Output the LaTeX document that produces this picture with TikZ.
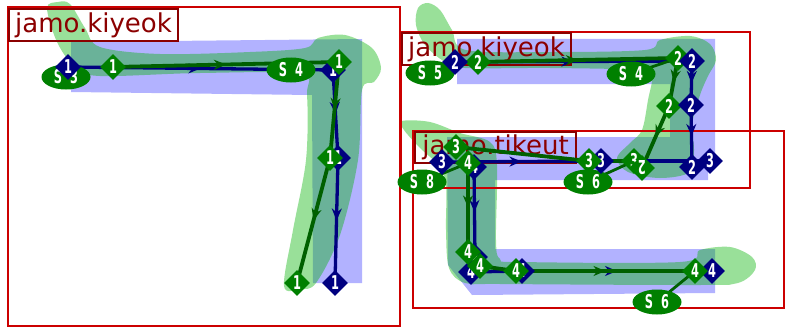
\documentclass[tikz,border=0pt]{standalone}
\usepackage{fontspec}
\usetikzlibrary{shapes.geometric,arrows.meta,decorations.markings}
\newfontfamily\dvsfont{DejaVu Sans}
\newcommand\lblfnt{\dvsfont\fontsize{26}{28}\selectfont}
\newcommand\dmdfnt{\dvsfont\bfseries\fontsize{19}{19}\selectfont}
\newcommand\nrw[1]{\scalebox{0.6}[1]{#1}}
\definecolor{framered}{RGB}{204,0,0}
\definecolor{boxred}{RGB}{139,0,0}
\definecolor{navyc}{RGB}{0,0,128}
\definecolor{dgreen}{RGB}{0,96,0}
\definecolor{mgreen}{RGB}{0,128,0}
\definecolor{lblue}{RGB}{178,178,255}
\definecolor{gfillc}{RGB}{0,178,0}
\pgfdeclarelayer{bg}\pgfdeclarelayer{lines}\pgfsetlayers{bg,lines,main}
\begin{document}
\begin{tikzpicture}[x=1pt,y=-1pt,
  framest/.style={draw=framered,line width=2.8pt},
  lbl/.style={draw=boxred,line width=1.8pt,text=boxred,font=\lblfnt,inner sep=1pt,anchor=center},
  gf/.style={fill=gfillc,fill opacity=0.4},
  nvl/.style={color=navyc,line width=3.3pt,line cap=round,line join=round},
  grl/.style={color=dgreen,line width=3.8pt,line cap=round,line join=round},
  conn/.style={color=dgreen,line width=2.8pt},
  arr/.style={postaction={decorate,decoration={markings,mark=at position 0.5 with {\arrow{Stealth[length=12pt,width=10pt]}}}}},
  nd/.style={diamond,fill=navyc,text=white,font=\dmdfnt,inner sep=0pt,minimum width=26pt,minimum height=26pt},
  gd/.style={diamond,fill=mgreen,text=white,font=\dmdfnt,inner sep=0pt,minimum width=26pt,minimum height=26pt},
  sel/.style={ellipse,fill=mgreen,text=white,font=\dmdfnt,inner sep=0pt,minimum width=49pt,minimum height=25pt}]
\useasboundingbox (0,0) rectangle (789,329);

% ---------- ellipses ----------
\node[sel] (s3) at (66,77) {\nrw{S~~3}};
\node[sel] (s4l) at (291,70) {\nrw{S~~4}};
\node[sel] (s5) at (430,73) {\nrw{S~~5}};
\node[sel] (s4r) at (631,74) {\nrw{S~~4}};
\node[sel] (s8) at (422,182) {\nrw{S~~8}};
\node[sel] (s6a) at (588,182) {\nrw{S~~6}};
\node[sel] (s6b) at (657,302) {\nrw{S~~6}};

% ---------- left glyph diamonds ----------
\node[nd] (n1a) at (68,67) {\nrw{1}};
\node[nd] (n1b) at (333,70) {\nrw{1}};
\node[nd] (n1c) at (338,158) {\nrw{1}};
\node[nd] (n1d) at (335,283) {\nrw{1}};
\node[gd] (g1a) at (113,67) {\nrw{1}};
\node[gd] (g1b) at (339,62) {\nrw{1}};
\node[gd] (g1c) at (330,158) {\nrw{1}};
\node[gd] (g1d) at (297,283) {\nrw{1}};

% ---------- kiyeok 2 diamonds ----------
\node[gd] (g2a) at (478,62) {\nrw{2}};
\node[gd] (g2b) at (678,58) {\nrw{2}};
\node[gd] (g2c) at (669,106) {\nrw{2}};
\node[nd] (n2a) at (455,62) {\nrw{2}};
\node[nd] (n2b) at (692,61) {\nrw{2}};
\node[nd] (n2c) at (691,105) {\nrw{2}};
\node[nd] (n2d) at (692,167) {\nrw{2}};

% ---------- tikeut diamonds ----------
\node[nd] (n3a) at (442,162) {\nrw{3}};
\node[nd] (n3b) at (601,161) {\nrw{3}};
\node[nd] (n3c) at (710,161) {\nrw{3}};
\node[nd] (n4a) at (474,167) {\nrw{4}};
\node[nd] (n4b) at (475,257) {\nrw{4}};
\node[nd] (n4c) at (471,272) {\nrw{4}};
\node[nd] (n4d) at (522,271) {\nrw{4}};
\node[nd] (n4e) at (712,271) {\nrw{4}};
\node[gd] (g3a) at (456,147) {\nrw{3}};
\node[gd] (g3b) at (589,161) {\nrw{3}};
\node[gd] (g3c) at (634,161) {\nrw{3}};
\node[gd] (g4a) at (468,163) {\nrw{4}};
\node[gd] (g4b) at (468,252) {\nrw{4}};
\node[gd] (g4c) at (480,266) {\nrw{4}};
\node[gd] (g4d) at (516,271) {\nrw{4}};
\node[gd] (g4e) at (695,271) {\nrw{4}};
\node[gd,rotate=180] (g2d) at (642,168) {\nrw{2}};

% ---------- background: fills, frames, labels ----------
\begin{pgfonlayer}{bg}
\fill[lblue] (71,42) -- (362,39) -- (362,283) -- (313,283) -- (312,95) -- (71,92) -- cycle;
\fill[lblue] (457,39) -- (715,39) -- (715,155) -- (670,155) -- (670,84) -- (457,84) -- cycle;
\fill[lblue] (447,137) -- (708,137) -- (708,180) -- (495,180) -- (495,249) -- (715,249) -- (715,293) -- (472,295) -- (448,265) -- cycle;
\fill[gf] plot[smooth cycle,tension=0.55] coordinates {(47,8) (58,2) (70,4) (85,28) (100,47) (160,54) (250,52) (305,48) (318,38) (345,35) (372,48) (381,68) (374,82) (362,90) (358,160) (340,235) (316,283) (300,289) (284,286) (293,230) (306,160) (307,95) (300,74) (200,73) (100,76) (75,67) (57,42)};
\fill[gf] plot[smooth cycle,tension=0.55] coordinates {(418,8) (428,3) (440,10) (452,30) (466,50) (550,52) (645,50) (660,40) (690,36) (710,44) (716,60) (708,76) (700,95) (692,125) (694,150) (690,172) (660,178) (628,172) (617,158) (630,143) (642,130) (648,100) (652,76) (640,70) (550,68) (465,68) (445,62) (425,45) (416,25)};
\fill[gf] plot[smooth cycle,tension=0.55] coordinates {(402,121) (430,122) (460,133) (490,142) (497,165) (496,240) (500,259) (520,262) (680,262) (700,250) (730,247) (752,257) (755,270) (738,283) (700,285) (500,284) (465,283) (449,268) (446,230) (446,185) (438,165) (420,148) (404,130)};
\draw[framest] (8,7) rectangle (400,326);
\draw[framest] (401,32) rectangle (750,188);
\draw[framest] (413,131) rectangle (784,308);
\node[lbl,minimum width=169pt,minimum height=32pt] (lab1) at (93.5,25) {jamo.kiyeok};
\node[lbl,minimum width=169pt,minimum height=32pt] (lab2) at (486.5,49) {jamo.kiyeok};
\node[lbl,minimum width=161pt,minimum height=31pt] (lab3) at (495.5,147.5) {jamo.tikeut};
\end{pgfonlayer}

% ---------- strokes ----------
\begin{pgfonlayer}{lines}
\draw[nvl,arr] (n1a.center) -- (n1b.center);
\draw[nvl,arr] (n1b.center) -- (n1c.center);
\draw[nvl,arr] (n1c.center) -- (n1d.center);
\draw[grl,arr] (g1a.center) -- (g1b.center);
\draw[grl,arr] (g1b.center) -- (g1c.center);
\draw[grl,arr] (g1c.center) -- (g1d.center);

\draw[nvl,arr] (n2a.center) -- (n2b.center);
\draw[nvl,arr] (n2b.center) -- (n2c.center);
\draw[nvl,arr] (n2c.center) -- (n2d.center);
\draw[grl,arr] (g2a.center) -- (g2b.center);
\draw[grl,arr] (g2b.center) -- (g2c.center);
\draw[grl,arr] (g2c.center) -- (g2d.center);

\draw[nvl,arr] (n3a.center) -- (n3b.center);
\draw[nvl] (n3b.center) -- (n3c.center);
\draw[nvl,arr] (n4a.center) -- (n4b.center);
\draw[nvl] (n4b.center) -- (n4c.center) -- (n4d.center);
\draw[nvl,arr] (n4d.center) -- (n4e.center);
\draw[grl] (g3a.center) -- (g3b.center) -- (g3c.center);
\draw[grl,arr] (g4a.center) -- (g4b.center);
\draw[grl] (g4b.center) -- (g4c.center) -- (g4d.center);
\draw[grl,arr] (g4d.center) -- (g4e.center);

\draw[conn] (s4r.center) -- (g2b.center);
\draw[conn] (s8.center) -- (g4a.center);
\draw[conn] (s6a.center) -- (g3c.center);
\draw[conn] (s6b.center) -- (g4e.center);
\end{pgfonlayer}
\end{tikzpicture}
\end{document}
